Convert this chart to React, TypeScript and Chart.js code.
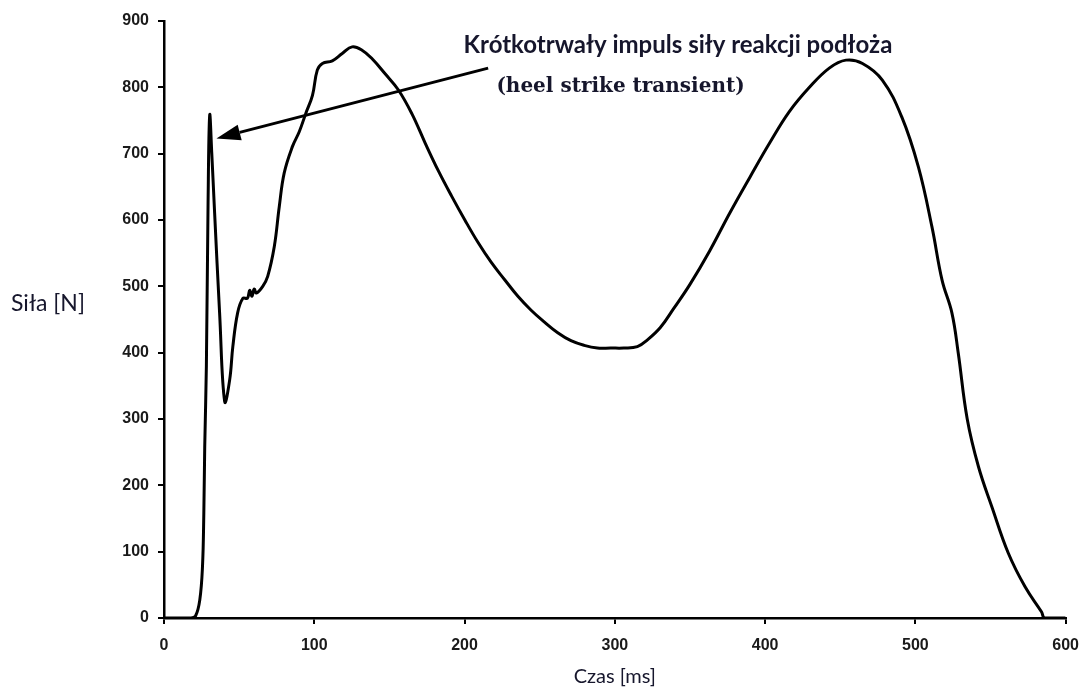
import { useEffect, useRef } from "react";
import { Chart, registerables } from "chart.js";

Chart.register(...registerables);

// Time axis (ms) and ground reaction force (N)
const timeMs = [
  0, 18, 21, 23.8, 25.6, 26.5, 27.1, 28.2, 29.3, 30.4, 31.8, 33.7, 37, 40.4, 43.7,
  45.8, 49, 52.5, 55.5, 57, 58.5, 60, 61.5, 65.7, 69, 73.4, 76.7, 80, 85.5, 90,
  94.4, 98.8, 102, 105.4, 112, 118.6, 125.2, 131.8, 138.5, 147.3, 156, 165, 173.8,
  182.6, 191.4, 200.2, 209, 217.8, 226.7, 235.5, 244.3, 253.2, 262, 270.8, 279.6,
  288.4, 297.2, 306, 315, 321.5, 330.3, 339, 350, 363, 376.6, 390, 403, 416, 429.5,
  442.7, 453.8, 464.8, 478, 491, 502, 511, 517.8, 524.3, 528.5, 534.5, 542, 551,
  561.8, 573, 584, 586, 600,
];
const forceN = [
  0, 0, 3, 27, 77, 158, 258, 380, 620, 758, 700, 610, 460, 326, 359,
  409, 460, 482, 482, 494, 485, 496, 490, 500, 515, 560, 620, 671, 711, 733,
  761, 788, 826, 836, 840, 851, 861, 856, 843, 820, 796, 760, 716,
  674, 636, 600, 566, 536, 510, 485, 464, 446, 430, 418, 411,
  407, 407, 407, 409, 419, 438, 466, 503, 553, 611, 665, 716, 763, 800,
  829, 841, 836, 811, 755, 680, 590, 509, 460, 400, 300, 228, 167,
  98, 47, 9, 0, 0,
];

const xTickValues = [0, 100, 200, 300, 400, 500, 600];
const yTickValues = [0, 100, 200, 300, 400, 500, 600, 700, 800, 900];

const xTitle = "Czas [ms]";
const yTitle = "Siła [N]";
const annotationLine1 = "Krótkotrwały impuls siły reakcji podłoża";
const annotationLine2 = "(heel strike transient)";
// annotation anchors in data units (ms, N)
const arrowTail = { x: 215.7, y: 829 };
const arrowTip = { x: 34.9, y: 723 };
const line1Anchor = { x: 342, y: 864 };
const line2Anchor = { x: 303.8, y: 801 };

const textColor = "#16162c";

const annotationPlugin = {
  id: "annotationPlugin",
  afterDraw(chart: any) {
    const { ctx, scales, chartArea } = chart;
    const xs = scales.x;
    const ys = scales.y;
    ctx.save();
    // arrow
    const x1 = xs.getPixelForValue(arrowTail.x);
    const y1 = ys.getPixelForValue(arrowTail.y);
    const x2 = xs.getPixelForValue(arrowTip.x);
    const y2 = ys.getPixelForValue(arrowTip.y);
    const ang = Math.atan2(y2 - y1, x2 - x1);
    const headLen = 24;
    const headHalf = 8;
    const bx = x2 - headLen * Math.cos(ang);
    const by = y2 - headLen * Math.sin(ang);
    ctx.strokeStyle = "#000";
    ctx.lineWidth = 3;
    ctx.beginPath();
    ctx.moveTo(x1, y1);
    ctx.lineTo(bx, by);
    ctx.stroke();
    ctx.fillStyle = "#000";
    ctx.beginPath();
    ctx.moveTo(x2, y2);
    ctx.lineTo(bx + headHalf * Math.sin(ang), by - headHalf * Math.cos(ang));
    ctx.lineTo(bx - headHalf * Math.sin(ang), by + headHalf * Math.cos(ang));
    ctx.closePath();
    ctx.fill();

    // texts
    ctx.fillStyle = textColor;
    ctx.textAlign = "center";
    ctx.textBaseline = "middle";
    ctx.font = "bold 24px Lato";
    ctx.fillText(annotationLine1, xs.getPixelForValue(line1Anchor.x), ys.getPixelForValue(line1Anchor.y));
    ctx.font = "bold 20px 'DejaVu Serif'";
    ctx.fillText(annotationLine2, xs.getPixelForValue(line2Anchor.x), ys.getPixelForValue(line2Anchor.y));

    // horizontal y-axis title
    ctx.font = "23px Lato";
    ctx.textAlign = "left";
    ctx.fillText(yTitle, 11, chartArea.top + (chartArea.bottom - chartArea.top) * 0.473);
    ctx.restore();
  },
};

export default function App() {
  const canvasRef = useRef<HTMLCanvasElement | null>(null);

  useEffect(() => {
    if (!canvasRef.current) return;
    const points = timeMs.map((t, i) => ({ x: t, y: forceN[i] }));
    const chart = new Chart(canvasRef.current, {
      type: "line",
      data: {
        datasets: [
          {
            data: points,
            borderColor: "#000",
            borderWidth: 3,
            pointRadius: 0,
            fill: false,
            tension: 0.4,
          },
        ],
      },
      options: {
        animation: false,
        responsive: false,
        maintainAspectRatio: false,
        layout: { padding: { top: 21, right: 20, left: 0, bottom: 0 } },
        plugins: {
          legend: { display: false },
          tooltip: { enabled: false },
        },
        scales: {
          x: {
            type: "linear",
            min: 0,
            max: 600,
            afterBuildTicks: (scale: any) => {
              scale.ticks = xTickValues.map((v) => ({ value: v }));
            },
            afterFit: (scale: any) => {
              scale.height = 73;
            },
            grid: {
              display: true,
              drawOnChartArea: false,
              drawTicks: true,
              tickLength: 6,
              color: "#000",
              lineWidth: 2,
            },
            border: { display: true, color: "#000", width: 2.5 },
            ticks: {
              color: "#1a1a1a",
              font: { family: "'Liberation Sans', Arial", size: 16, weight: "bold" },
              padding: 12,
              maxRotation: 0,
            },
            title: {
              display: true,
              text: xTitle,
              color: textColor,
              font: { family: "Lato", size: 20 },
              padding: { top: 0, bottom: 2 },
            },
          },
          y: {
            type: "linear",
            min: 0,
            max: 900,
            afterBuildTicks: (scale: any) => {
              scale.ticks = yTickValues.map((v) => ({ value: v }));
            },
            afterFit: (scale: any) => {
              scale.width = 164;
            },
            grid: {
              display: true,
              drawOnChartArea: false,
              drawTicks: true,
              tickLength: 6,
              color: "#000",
              lineWidth: 2,
            },
            border: { display: true, color: "#000", width: 2.5 },
            ticks: {
              color: "#1a1a1a",
              font: { family: "'Liberation Sans', Arial", size: 16, weight: "bold" },
              padding: 9,
            },
          },
        },
      },
      plugins: [annotationPlugin],
    });
    return () => chart.destroy();
  }, []);

  return (
    <div style={{ position: "fixed", left: 0, top: 0, width: 1091, height: 691, background: "#fff" }}>
      <canvas ref={canvasRef} width={1091} height={691} />
    </div>
  );
}
